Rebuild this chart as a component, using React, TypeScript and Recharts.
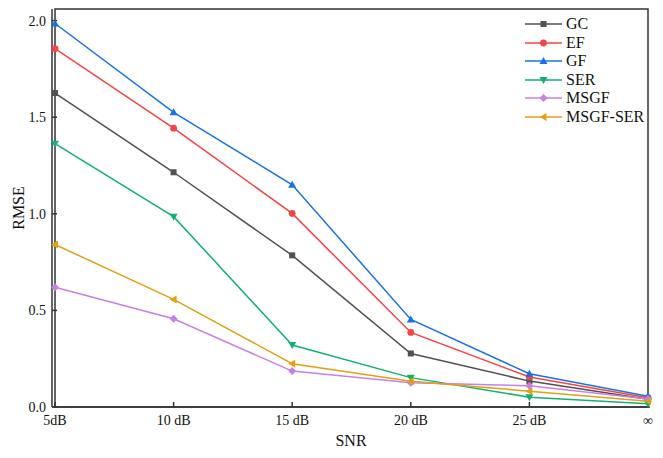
import { LineChart, Line, XAxis, YAxis, ReferenceArea } from 'recharts';

// SNR categories along the x axis
const snrLabels = ['5dB', '10 dB', '15 dB', '20 dB', '25 dB', '∞'];

// RMSE per method
const gc = [1.625, 1.215, 0.785, 0.277, 0.134, 0.04];
const ef = [1.855, 1.443, 1.002, 0.386, 0.155, 0.048];
const gf = [1.985, 1.525, 1.15, 0.453, 0.172, 0.056];
const ser = [1.363, 0.985, 0.321, 0.152, 0.051, 0.017];
const msgf = [0.62, 0.457, 0.186, 0.126, 0.11, 0.042];
const msgfSer = [0.841, 0.557, 0.224, 0.133, 0.082, 0.03];

const yTicks = [0, 0.5, 1.0, 1.5, 2.0];
const yMax = 2.06;

const series = [
  { key: 'GC', values: gc, color: '#515151', shape: 'square' },
  { key: 'EF', values: ef, color: '#F54444', shape: 'circle' },
  { key: 'GF', values: gf, color: '#1A72E2', shape: 'up' },
  { key: 'SER', values: ser, color: '#12B073', shape: 'down' },
  { key: 'MSGF', values: msgf, color: '#C681E6', shape: 'diamond' },
  { key: 'MSGF-SER', values: msgfSer, color: '#E2A013', shape: 'left' },
];

const data = snrLabels.map((snr, i) => {
  const row: Record<string, string | number> = { snr };
  series.forEach((s) => {
    row[s.key] = s.values[i];
  });
  return row;
});

const FONT = '"Liberation Serif", "Times New Roman", serif';
const AXIS = '#333';

function Marker({ cx, cy, shape, color }: { cx: number; cy: number; shape: string; color: string }) {
  if (cx == null || cy == null) return null;
  switch (shape) {
    case 'square':
      return <rect x={cx - 3} y={cy - 3} width={6} height={6} fill={color} />;
    case 'circle':
      return <circle cx={cx} cy={cy} r={3.4} fill={color} />;
    case 'up':
      return <polygon points={`${cx},${cy - 4} ${cx + 4},${cy + 3} ${cx - 4},${cy + 3}`} fill={color} />;
    case 'down':
      return <polygon points={`${cx},${cy + 4} ${cx + 4},${cy - 3} ${cx - 4},${cy - 3}`} fill={color} />;
    case 'diamond':
      return <polygon points={`${cx},${cy - 4} ${cx + 4},${cy} ${cx},${cy + 4} ${cx - 4},${cy}`} fill={color} />;
    default:
      return <polygon points={`${cx - 4},${cy} ${cx + 3},${cy - 4} ${cx + 3},${cy + 4}`} fill={color} />;
  }
}

function LegendBox() {
  return (
    <div style={{ position: 'absolute', left: 524, top: 15, fontFamily: FONT, fontSize: 16, color: '#111' }}>
      {series.map((s) => (
        <div key={s.key} style={{ display: 'flex', alignItems: 'center', height: 18.5 }}>
          <svg width={40} height={18} style={{ display: 'block' }}>
            <line x1={1} y1={9} x2={38} y2={9} stroke={s.color} strokeWidth={1.5} />
            <Marker cx={19.5} cy={9} shape={s.shape} color={s.color} />
          </svg>
          <span style={{ marginLeft: 2, lineHeight: '18px' }}>{s.key}</span>
        </div>
      ))}
    </div>
  );
}

export default function App() {
  return (
    <div style={{ position: 'absolute', left: 0, top: 0, width: 663, height: 458 }}>
      <LineChart width={663} height={458} data={data} margin={{ top: 9, right: 13, bottom: 0, left: 0 }}>
        <XAxis
          dataKey="snr"
          interval={0}
          padding={{ left: 3, right: 2 }}
          height={51}
          tickSize={-5}
          tickMargin={13}
          stroke={AXIS}
          strokeWidth={1.5}
          tick={{ fill: '#111', fontSize: 14, fontFamily: FONT }}
          label={{ value: 'SNR', position: 'center', dy: 8, fill: '#111', fontSize: 16, fontFamily: FONT }}
        />
        <YAxis
          domain={[0, yMax]}
          ticks={yTicks}
          width={52}
          tickSize={-5}
          tickMargin={11}
          stroke={AXIS}
          strokeWidth={1.5}
          tickFormatter={(v: number) => v.toFixed(1)}
          tick={{ fill: '#111', fontSize: 14, fontFamily: FONT }}
          label={{ value: 'RMSE', angle: -90, position: 'center', dx: -8, fill: '#111', fontSize: 16, fontFamily: FONT }}
        />
        <ReferenceArea y1={0} y2={yMax} fill="none" fillOpacity={0} stroke={AXIS} strokeWidth={1.5} ifOverflow="visible" />
        {series.map((s) => (
          <Line
            key={s.key}
            dataKey={s.key}
            stroke={s.color}
            strokeWidth={1.5}
            isAnimationActive={false}
            dot={(p: any) => <Marker key={`${s.key}-${p.index}`} cx={p.cx} cy={p.cy} shape={s.shape} color={s.color} />}
            activeDot={false}
          />
        ))}
      </LineChart>
      <LegendBox />
    </div>
  );
}
